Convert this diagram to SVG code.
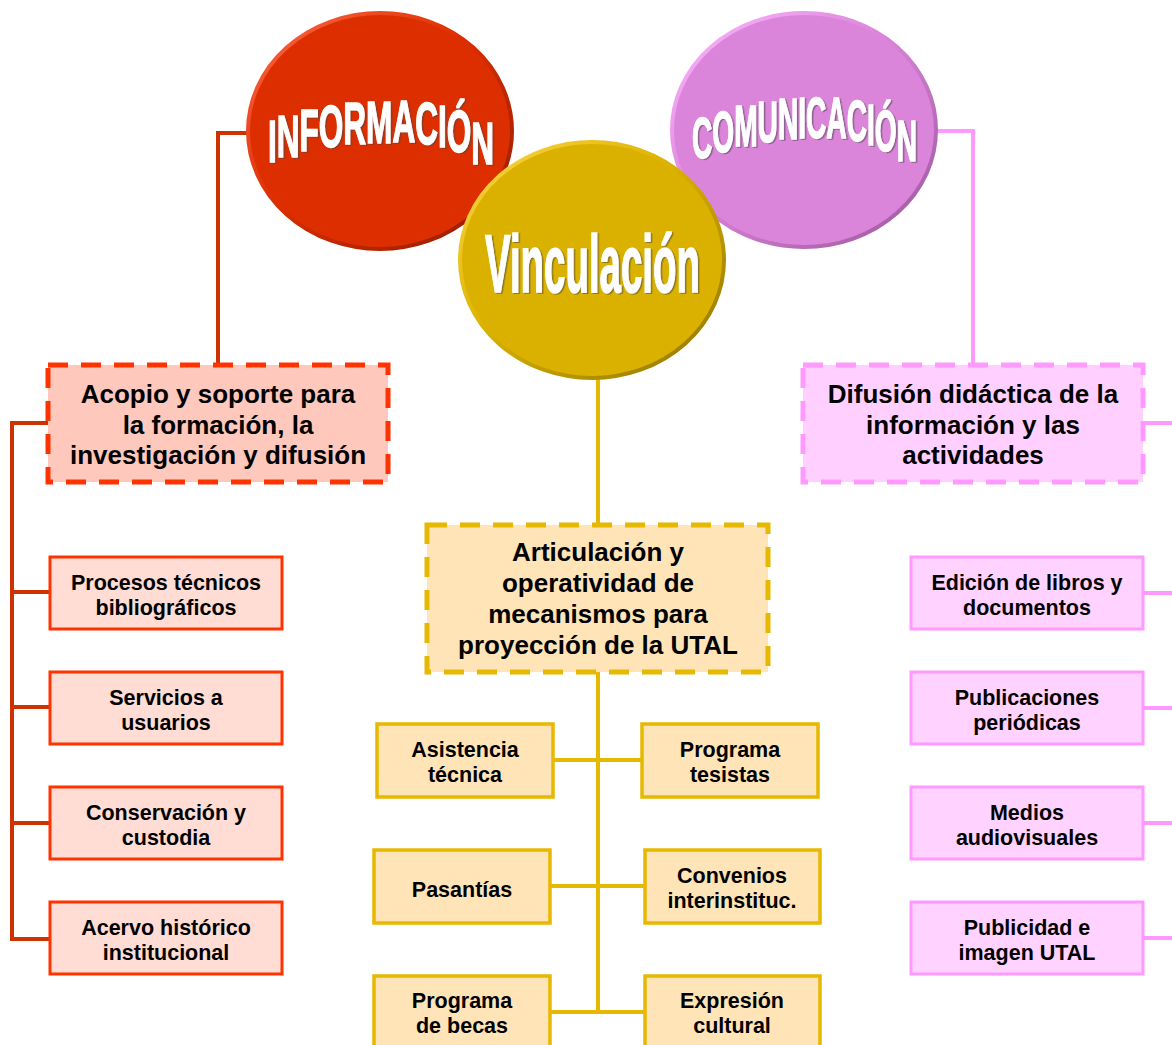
<svg xmlns="http://www.w3.org/2000/svg" width="1172" height="1045" viewBox="0 0 1172 1045">
<defs>
<linearGradient id="rimRed" x1="0" y1="0" x2="1" y2="1"><stop offset="0" stop-color="#FF6A4A"/><stop offset="0.45" stop-color="#DD2E00"/><stop offset="1" stop-color="#8E1C00"/></linearGradient>
<linearGradient id="rimPink" x1="0" y1="0" x2="1" y2="1"><stop offset="0" stop-color="#FFB8FF"/><stop offset="0.45" stop-color="#DA84DA"/><stop offset="1" stop-color="#9A559A"/></linearGradient>
<linearGradient id="rimGold" x1="0" y1="0" x2="1" y2="1"><stop offset="0" stop-color="#FFD84A"/><stop offset="0.45" stop-color="#DBB100"/><stop offset="1" stop-color="#8E7200"/></linearGradient>
<filter id="ts" x="-10%" y="-10%" width="120%" height="130%"><feDropShadow dx="1.5" dy="1" stdDeviation="0.6" flood-color="#444" flood-opacity="0.55"/></filter>
</defs>
<style>
.t{font-family:"Liberation Sans",Arial,sans-serif;font-weight:bold;fill:#000;text-anchor:middle}
.s{font-size:21.5px}
.h{font-size:26px}
.big{font-family:"Liberation Sans",Arial,sans-serif;font-weight:bold;fill:#fff;stroke:#fff;stroke-width:1.5}
.lr{fill:none;stroke:#CC3300;stroke-width:4}
.lp{fill:none;stroke:#FF99FF;stroke-width:4}
.ly{fill:none;stroke:#E6B800;stroke-width:4}
.br{fill:#FFDCD4;stroke:#FF3300;stroke-width:3}
.bp{fill:#FFD2FF;stroke:#FF99FF;stroke-width:3}
.by{fill:#FFE4B8;stroke:#E6B800;stroke-width:3.5}
.dr{fill:#FFC8BC;stroke:#FF3300;stroke-width:5;stroke-dasharray:20 13}
.dp{fill:#FFD0FF;stroke:#FF99FF;stroke-width:5;stroke-dasharray:20 13}
.dy{fill:#FFE4B8;stroke:#E6B800;stroke-width:5;stroke-dasharray:20 13}
</style>
<g id="connectors">
<path class="lr" d="M250 133 H218 V365"/>
<path class="lr" d="M48 423 H12 V939 H50 M12 592 H50 M12 707 H50 M12 823 H50"/>
<path class="lp" d="M935 131 H973 V365"/>
<path class="lp" d="M1143 423 H1176 M1143 593 H1176 M1143 708 H1176 M1143 823 H1176 M1143 938 H1176"/>
<path class="ly" d="M598 379 V525 M598 672 V1012 M553 760 H642 M550 886 H645 M550 1012 H645"/>
</g>
<g id="informacion">
<ellipse cx="380" cy="131" rx="132" ry="118" fill="#DD2E00" stroke="url(#rimRed)" stroke-width="4"/>
<text class="big" filter="url(#ts)" font-size="60" x="268" y="162 157 151 147 144 143 142 144 147 152 164" textLength="226" lengthAdjust="spacingAndGlyphs">INFORMACIÓN</text>
</g>
<g id="comunicacion">
<ellipse cx="804" cy="130" rx="132" ry="117" fill="#DA84DA" stroke="url(#rimPink)" stroke-width="4"/>
<text class="big" filter="url(#ts)" font-size="58" x="692" y="158 152 146 142 139 138 138 138 141 145 151 161" textLength="225" lengthAdjust="spacingAndGlyphs">COMUNICACIÓN</text>
</g>
<g id="vinculacion">
<ellipse cx="592" cy="260" rx="132" ry="118" fill="#DBB100" stroke="url(#rimGold)" stroke-width="4"/>
<text class="big" filter="url(#ts)" font-size="82" x="485" y="292" textLength="215" lengthAdjust="spacingAndGlyphs">Vinculación</text>
</g>
<g id="acopio">
<rect class="dr" x="48" y="365" width="340" height="117"/>
<text class="t h" x="218" y="403">Acopio y soporte para</text>
<text class="t h" x="218" y="434">la formación, la</text>
<text class="t h" x="218" y="464">investigación y difusión</text>
</g>
<g id="difusion">
<rect class="dp" x="803" y="365" width="340" height="117"/>
<text class="t h" x="973" y="403">Difusión didáctica de la</text>
<text class="t h" x="973" y="434">información y las</text>
<text class="t h" x="973" y="464">actividades</text>
</g>
<g id="articulacion">
<rect class="dy" x="427" y="525" width="341" height="147"/>
<text class="t h" x="598" y="561">Articulación y</text>
<text class="t h" x="598" y="592">operatividad de</text>
<text class="t h" x="598" y="623">mecanismos para</text>
<text class="t h" x="598" y="654">proyección de la UTAL</text>
</g>
<g id="procesos"><rect class="br" x="50" y="557" width="232" height="72"/><text class="t s" x="166" y="590">Procesos técnicos</text><text class="t s" x="166" y="615">bibliográficos</text></g>
<g id="servicios"><rect class="br" x="50" y="672" width="232" height="72"/><text class="t s" x="166" y="705">Servicios a</text><text class="t s" x="166" y="730">usuarios</text></g>
<g id="conservacion"><rect class="br" x="50" y="787" width="232" height="72"/><text class="t s" x="166" y="820">Conservación y</text><text class="t s" x="166" y="845">custodia</text></g>
<g id="acervo"><rect class="br" x="50" y="902" width="232" height="72"/><text class="t s" x="166" y="935">Acervo histórico</text><text class="t s" x="166" y="960">institucional</text></g>
<g id="edicion"><rect class="bp" x="911" y="557" width="232" height="72"/><text class="t s" x="1027" y="590">Edición de libros y</text><text class="t s" x="1027" y="615">documentos</text></g>
<g id="publicaciones"><rect class="bp" x="911" y="672" width="232" height="72"/><text class="t s" x="1027" y="705">Publicaciones</text><text class="t s" x="1027" y="730">periódicas</text></g>
<g id="medios"><rect class="bp" x="911" y="787" width="232" height="72"/><text class="t s" x="1027" y="820">Medios</text><text class="t s" x="1027" y="845">audiovisuales</text></g>
<g id="publicidad"><rect class="bp" x="911" y="902" width="232" height="72"/><text class="t s" x="1027" y="935">Publicidad e</text><text class="t s" x="1027" y="960">imagen UTAL</text></g>
<g id="asistencia"><rect class="by" x="377" y="724" width="176" height="73"/><text class="t s" x="465" y="757">Asistencia</text><text class="t s" x="465" y="782">técnica</text></g>
<g id="tesistas"><rect class="by" x="642" y="724" width="176" height="73"/><text class="t s" x="730" y="757">Programa</text><text class="t s" x="730" y="782">tesistas</text></g>
<g id="pasantias"><rect class="by" x="374" y="850" width="176" height="73"/><text class="t s" x="462" y="897">Pasantías</text></g>
<g id="convenios"><rect class="by" x="645" y="850" width="175" height="73"/><text class="t s" x="732" y="883">Convenios</text><text class="t s" x="732" y="908">interinstituc.</text></g>
<g id="becas"><rect class="by" x="374" y="976" width="176" height="73"/><text class="t s" x="462" y="1008">Programa</text><text class="t s" x="462" y="1033">de becas</text></g>
<g id="expresion"><rect class="by" x="645" y="976" width="175" height="73"/><text class="t s" x="732" y="1008">Expresión</text><text class="t s" x="732" y="1033">cultural</text></g>
</svg>
